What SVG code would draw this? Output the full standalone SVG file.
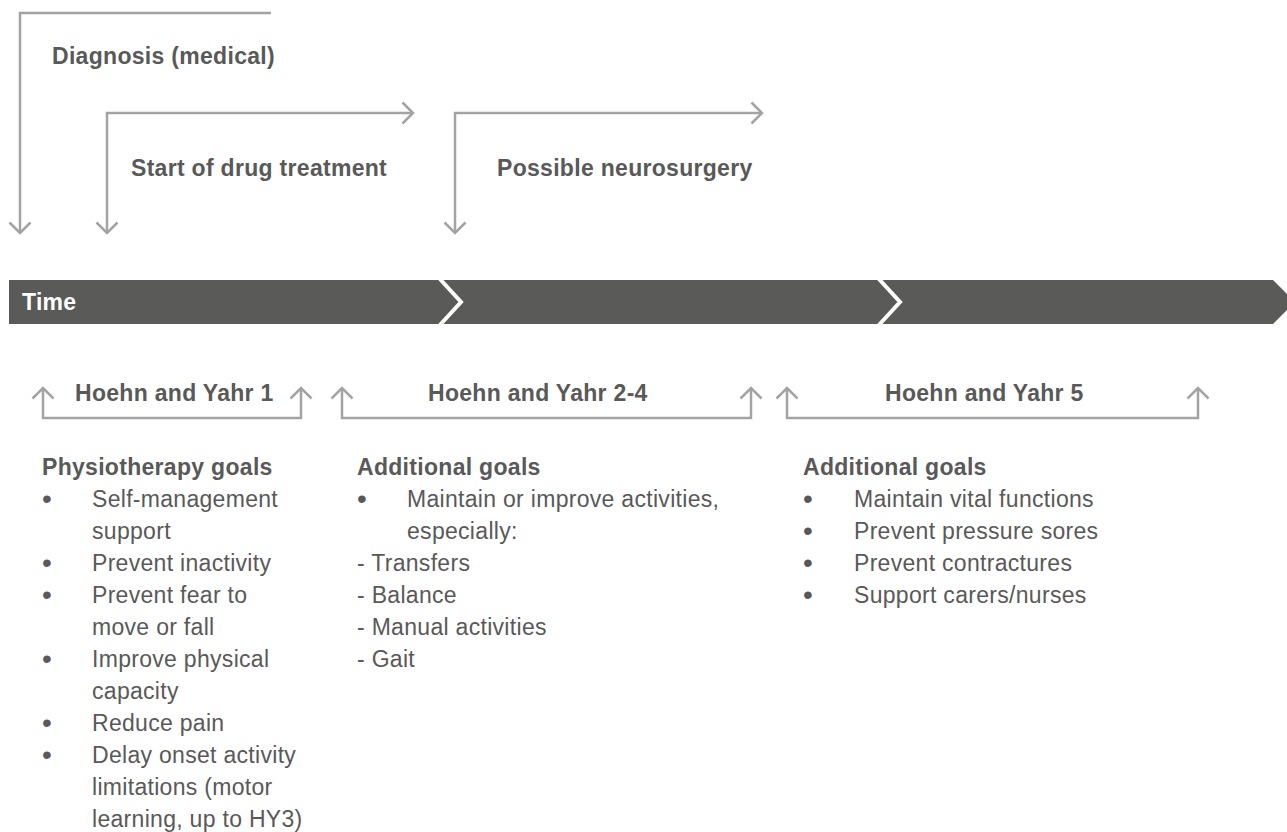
<svg xmlns="http://www.w3.org/2000/svg" width="1287" height="832" viewBox="0 0 1287 832">
<style>
.t{font-family:"Liberation Sans",Arial,Helvetica,sans-serif;font-size:23px;fill:#595959;letter-spacing:0.3px}
.b{font-weight:bold}
.w{fill:#ffffff}
.bu{font-size:28px;letter-spacing:0}
.ln{fill:none;stroke:#a3a3a3;stroke-width:2.5}
</style>
<defs>
<marker id="arr" markerUnits="userSpaceOnUse" markerWidth="26" markerHeight="26" viewBox="-13 -13 26 26" refX="0" refY="0" orient="auto-start-reverse">
<path d="M-10.5,-10.5 L0,0 L-10.5,10.5" fill="none" stroke="#a3a3a3" stroke-width="2.5"/>
</marker>
</defs>
<rect width="1287" height="832" fill="#ffffff"/>

<g id="connectors">
<path class="ln" d="M271,13 H20 V233" marker-end="url(#arr)"/>
<path class="ln" d="M107,233 V113 H413" marker-start="url(#arr)" marker-end="url(#arr)"/>
<path class="ln" d="M455,233 V113 H762" marker-start="url(#arr)" marker-end="url(#arr)"/>
<path class="ln" d="M43,388 V418 H301 V388" marker-start="url(#arr)" marker-end="url(#arr)"/>
<path class="ln" d="M342,388 V418 H751 V388" marker-start="url(#arr)" marker-end="url(#arr)"/>
<path class="ln" d="M787,388 V418 H1198 V388" marker-start="url(#arr)" marker-end="url(#arr)"/>
</g>

<g id="diagnosis"><text class="t b" x="52" y="64">Diagnosis (medical)</text></g>
<g id="drug"><text class="t b" x="131" y="176">Start of drug treatment</text></g>
<g id="neurosurgery"><text class="t b" x="497" y="176">Possible neurosurgery</text></g>

<g id="timebar">
<path d="M9,280 H1273 L1295,302 L1273,324 H9 Z" fill="#5a5a58"/>
<polyline points="439,278 461,302 439,326" fill="none" stroke="#ffffff" stroke-width="4"/>
<polyline points="878,278 900,302 878,326" fill="none" stroke="#ffffff" stroke-width="4"/>
<text class="t b w" x="22" y="310">Time</text>
</g>

<g id="hy1"><text class="t b" x="75" y="401">Hoehn and Yahr 1</text></g>
<g id="hy24"><text class="t b" x="428" y="401">Hoehn and Yahr 2-4</text></g>
<g id="hy5"><text class="t b" x="885" y="401">Hoehn and Yahr 5</text></g>

<g id="col1">
<text class="t b" x="42" y="475">Physiotherapy goals</text>
<text class="t bu" x="42" y="508">•</text><text class="t" x="92" y="507">Self-management</text>
<text class="t" x="92" y="539">support</text>
<text class="t bu" x="42" y="572">•</text><text class="t" x="92" y="571">Prevent inactivity</text>
<text class="t bu" x="42" y="604">•</text><text class="t" x="92" y="603">Prevent fear to</text>
<text class="t" x="92" y="635">move or fall</text>
<text class="t bu" x="42" y="668">•</text><text class="t" x="92" y="667">Improve physical</text>
<text class="t" x="92" y="699">capacity</text>
<text class="t bu" x="42" y="732">•</text><text class="t" x="92" y="731">Reduce pain</text>
<text class="t bu" x="42" y="764">•</text><text class="t" x="92" y="763">Delay onset activity</text>
<text class="t" x="92" y="795">limitations (motor</text>
<text class="t" x="92" y="827">learning, up to HY3)</text>
</g>

<g id="col2">
<text class="t b" x="357" y="475">Additional goals</text>
<text class="t bu" x="357" y="508">•</text><text class="t" x="407" y="507">Maintain or improve activities,</text>
<text class="t" x="407" y="539">especially:</text>
<text class="t" x="357" y="571">- Transfers</text>
<text class="t" x="357" y="603">- Balance</text>
<text class="t" x="357" y="635">- Manual activities</text>
<text class="t" x="357" y="667">- Gait</text>
</g>

<g id="col3">
<text class="t b" x="803" y="475">Additional goals</text>
<text class="t bu" x="803" y="508">•</text><text class="t" x="854" y="507">Maintain vital functions</text>
<text class="t bu" x="803" y="540">•</text><text class="t" x="854" y="539">Prevent pressure sores</text>
<text class="t bu" x="803" y="572">•</text><text class="t" x="854" y="571">Prevent contractures</text>
<text class="t bu" x="803" y="604">•</text><text class="t" x="854" y="603">Support carers/nurses</text>
</g>
</svg>
